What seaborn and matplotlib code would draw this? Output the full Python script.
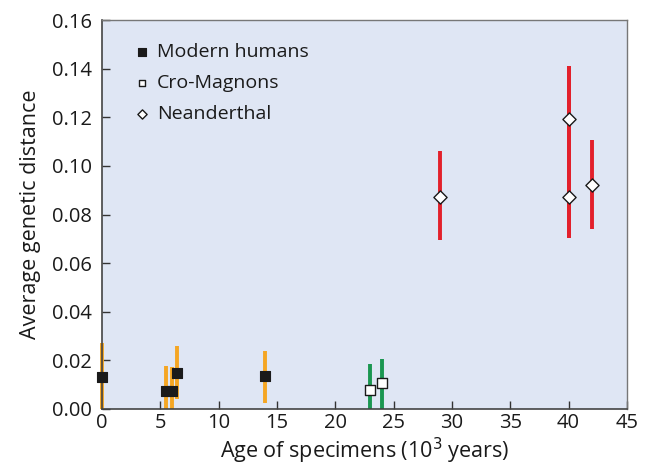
import numpy as np
import pandas as pd
import matplotlib
matplotlib.use("Agg")
import matplotlib.pyplot as plt
import seaborn as sns

# Modern humans
mod_age = [0, 5.5, 6.0, 6.4, 14]
mod_dist = [0.0133, 0.0072, 0.0072, 0.0150, 0.0135]
mod_lo = [0.0, 0.0, 0.0, 0.004, 0.0025]
mod_hi = [0.027, 0.0178, 0.0173, 0.026, 0.024]

# Cro-Magnons
cro_age = [23, 24]
cro_dist = [0.0080, 0.0107]
cro_lo = [0.0, 0.0]
cro_hi = [0.0183, 0.0204]

# Neanderthal
nea_age = [29, 40, 40, 42]
nea_dist = [0.0872, 0.0872, 0.1193, 0.0921]
nea_lo = [0.0697, 0.0703, 0.0703, 0.0742]
nea_hi = [0.1060, 0.1410, 0.1410, 0.1107]

sns.set_style("ticks")
plt.rcParams['font.family'] = ['Open Sans', 'DejaVu Sans']

fig = plt.figure(figsize=(6.46, 4.72), dpi=100)
ax = fig.add_axes([0.158, 0.1335, 0.8125, 0.8241])
ax.set_facecolor('#dfe6f4')

def err_lines(x, lo, hi, color):
    ax.vlines(x, lo, hi, color=color, lw=2.8, zorder=2, clip_on=False)

err_lines(mod_age, mod_lo, mod_hi, '#f5a623')
err_lines(cro_age, cro_lo, cro_hi, '#1a9650')
err_lines(nea_age, nea_lo, nea_hi, '#e3202b')

df = pd.concat([
    pd.DataFrame({'age': mod_age, 'dist': mod_dist, 'group': 'Modern humans'}),
    pd.DataFrame({'age': cro_age, 'dist': cro_dist, 'group': 'Cro-Magnons'}),
    pd.DataFrame({'age': nea_age, 'dist': nea_dist, 'group': 'Neanderthal'}),
])

sns.scatterplot(data=df[df.group == 'Modern humans'], x='age', y='dist', ax=ax,
                marker='s', s=55, color='#1a1a1a', edgecolor='#1a1a1a',
                linewidth=0.8, zorder=3, label='Modern humans', clip_on=False)
sns.scatterplot(data=df[df.group == 'Cro-Magnons'], x='age', y='dist', ax=ax,
                marker='s', s=50, color='white', edgecolor='#1a1a1a',
                linewidth=1.0, zorder=3, label='Cro-Magnons', clip_on=False)
sns.scatterplot(data=df[df.group == 'Neanderthal'], x='age', y='dist', ax=ax,
                marker='D', s=45, color='white', edgecolor='#1a1a1a',
                linewidth=1.0, zorder=3, label='Neanderthal', clip_on=False)

ax.set_xlim(0, 45)
ax.set_ylim(0, 0.16)
ax.set_xticks(np.arange(0, 46, 5))
ax.set_yticks(np.arange(0, 0.161, 0.02))
ax.set_yticklabels([f'{v:.2f}' for v in np.arange(0, 0.161, 0.02)])
ax.tick_params(direction='in', length=6, width=1, color='#333333',
               labelsize=14.5, labelcolor='#1a1a1a')
ax.tick_params(axis='y', pad=7)
ax.tick_params(axis='x', pad=3)
ax.set_xlabel('Age of specimens (10$^{3}$ years)', fontsize=15.5,
              color='#1a1a1a', labelpad=2)
ax.set_ylabel('Average genetic distance', fontsize=15.5, color='#1a1a1a',
              labelpad=8)

for side in ['left', 'bottom']:
    ax.spines[side].set_color('#444444')
    ax.spines[side].set_linewidth(1.2)
for side in ['top', 'right']:
    ax.spines[side].set_color('#777777')
    ax.spines[side].set_linewidth(1.0)

leg = ax.legend(loc='upper left', bbox_to_anchor=(0.025, 0.985), frameon=False,
                fontsize=14, handletextpad=0.25, labelspacing=0.65,
                markerscale=0.7, handlelength=1.0)
for t in leg.get_texts():
    t.set_color('#1a1a1a')

fig.savefig('out.png', dpi=100)
